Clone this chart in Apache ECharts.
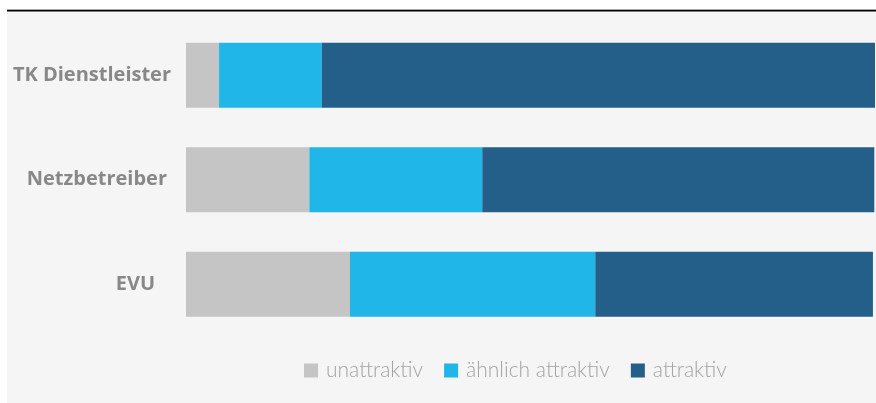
<!DOCTYPE html>
<html><head><meta charset="utf-8">
<script src="https://cdn.jsdelivr.net/npm/echarts@6/dist/echarts.min.js"></script>
<style>html,body{margin:0;padding:0;background:#fff}#c{width:876px;height:403px}</style>
</head><body><div id="c"></div>
<script>
const categories = ['TK Dienstleister', 'Netzbetreiber', 'EVU'];
const seriesNames = ['unattraktiv', 'ähnlich attraktiv', 'attraktiv'];
const unattraktiv = [4.8, 17.9, 23.8];
const aehnlich = [14.9, 25.1, 35.6];
const attraktiv = [80.3, 56.9, 40.3];
const colors = ['#c5c5c5', '#20b6e8', '#245f8a'];

const labelPad = [0, 4, 16];
const chart = echarts.init(document.getElementById('c'));
const values = [unattraktiv, aehnlich, attraktiv];
chart.setOption({
  animation: false,
  graphic: [
    {type: 'rect', shape: {x: 7, y: 11, width: 869, height: 392}, style: {fill: '#f5f5f5'}, z: -10},
    {type: 'rect', shape: {x: 7, y: 9, width: 869, height: 1}, style: {fill: '#aaaaaa'}, z: -5},
    {type: 'rect', shape: {x: 7, y: 10, width: 869, height: 1.5}, style: {fill: '#000000'}, z: -5}
  ],
  grid: {left: 186, right: 1, top: 23, height: 313.5, containLabel: false},
  xAxis: {type: 'value', min: 0, max: 100, show: false},
  yAxis: {
    type: 'category', inverse: true,
    data: categories.map((c, i) => ({value: c, textStyle: {padding: [3, labelPad[i], 0, 0]}})),
    axisLine: {show: false}, axisTick: {show: false}, splitLine: {show: false},
    axisLabel: {margin: 15, color: '#888888', fontFamily: 'Open Sans', fontWeight: 'bold', fontSize: 20}
  },
  legend: {
    left: 304, top: 360, padding: 0, itemWidth: 14, itemHeight: 14, itemGap: 21, icon: 'rect',
    textStyle: {color: '#a3a3a3', fontFamily: 'Lato', fontWeight: 300, fontSize: 21, padding: [0, 0, 0, 3]},
    data: seriesNames
  },
  series: seriesNames.map((n, i) => ({
    name: n, type: 'bar', stack: 'a', data: values[i], barWidth: 65,
    itemStyle: {color: colors[i]}
  }))
});
</script></body></html>
